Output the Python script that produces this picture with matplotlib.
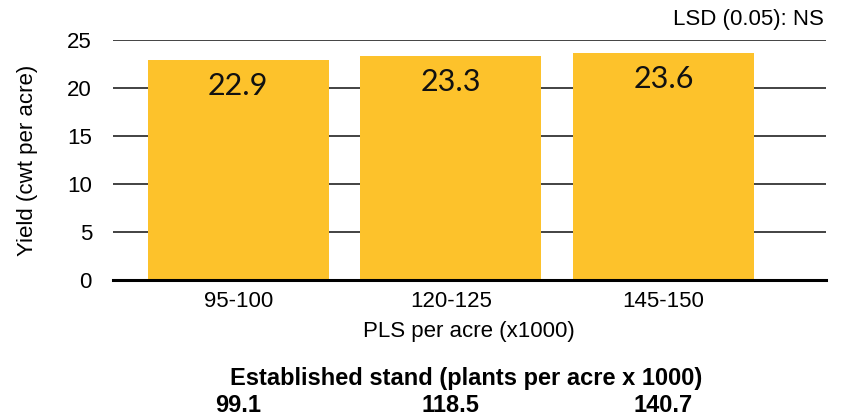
import matplotlib.pyplot as plt

# Data
pls_groups = ['95-100', '120-125', '145-150']
yields = [22.9, 23.3, 23.6]
stand_values = ['99.1', '118.5', '140.7']
y_ticks = [0, 5, 10, 15, 20, 25]

bar_color = '#FDC22B'
plt.rcParams['font.family'] = ['Liberation Sans', 'DejaVu Sans']
fs = 16

fig = plt.figure(figsize=(8.42, 4.17), dpi=100)
ax = fig.add_axes([0.134, 1 - 280 / 417, 0.847, 240.5 / 417])

x = list(range(len(pls_groups)))
ax.bar(x, yields, width=0.85, color=bar_color, zorder=3)

# value labels inside bars
for xi, v in zip(x, yields):
    ax.text(xi, v - 2.7, f'{v}', ha='center', va='center', fontsize=22,
            family=['Lato', 'DejaVu Sans'], color='#111111', zorder=4)

ax.set_xlim(-0.59, 2.765)
ax.set_ylim(0, 25)
ax.set_yticks(y_ticks)
ax.set_xticks(x)
ax.set_xticklabels(pls_groups, fontsize=fs)
ax.tick_params(axis='y', labelsize=fs, length=0, pad=15)
ax.tick_params(axis='x', length=0, pad=8)
ax.yaxis.grid(True, color='#222222', linewidth=1.2, zorder=0)
ax.set_axisbelow(True)

for s in ['top', 'right', 'left']:
    ax.spines[s].set_visible(False)
ax.spines['bottom'].set_linewidth(2.2)
ax.spines['bottom'].set_zorder(5)

# axis titles
fig.text(28 / 842, 1 - 160 / 417, 'Yield (cwt per acre)', rotation=90,
         ha='center', va='center', fontsize=fs)
fig.text(469 / 842, 1 - 332 / 417, 'PLS per acre (x1000)', ha='center',
         va='center', fontsize=fs)

fig.text(824 / 842, 1 - 20 / 417, 'LSD (0.05): NS', ha='right',
         va='center', fontsize=fs)

# established stand below the chart
fig.text(466 / 842, 1 - 378 / 417, 'Established stand (plants per acre x 1000)',
         ha='center', va='center', fontsize=17, fontweight='bold')
for xi, s in zip(x, stand_values):
    xd = ax.transData.transform((xi, 0))[0]
    xf = fig.transFigure.inverted().transform((xd, 0))[0]
    fig.text(xf, 1 - 405 / 417, s, ha='center', va='center', fontsize=17,
             fontweight='bold')

plt.savefig('out.png', dpi=100)
plt.close()
